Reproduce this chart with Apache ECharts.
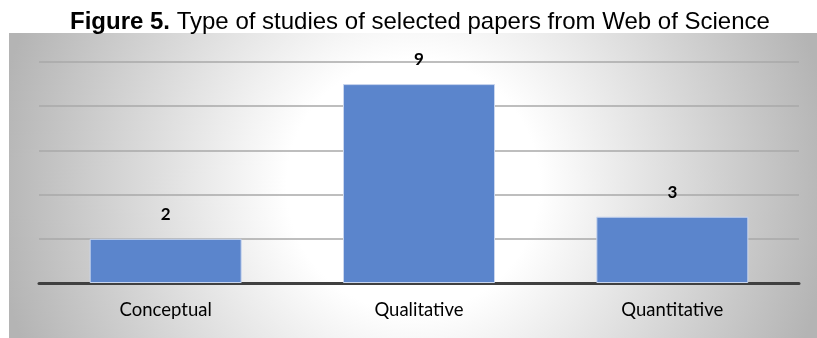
<!DOCTYPE html>
<html>
<head>
<meta charset="utf-8">
<script src="https://cdn.jsdelivr.net/npm/echarts@6/dist/echarts.min.js"></script>
<style>
  html, body { margin: 0; padding: 0; background: #ffffff; }
  #chart { width: 817px; height: 338px; }
</style>
</head>
<body>
<div id="chart"></div>
<script>
// Study types and number of selected papers
const categories = ['Conceptual', 'Qualitative', 'Quantitative'];
const paperCounts = [2, 9, 3];

const chart = echarts.init(document.getElementById('chart'), null, { renderer: 'canvas' });

chart.setOption({
  animation: false,
  title: {
    text: '{b|Figure 5.} Type of studies of selected papers from Web of Science',
    left: 65,
    top: 5,
    textStyle: {
      fontFamily: 'Liberation Sans, Arial, sans-serif',
      fontSize: 24,
      fontWeight: 'normal',
      color: '#000000',
      rich: {
        b: { fontFamily: 'Liberation Sans, Arial, sans-serif', fontSize: 24, fontWeight: 'bold', color: '#000000' }
      }
    }
  },
  graphic: [{
    type: 'rect',
    z: -10,
    silent: true,
    shape: { x: 9, y: 33, width: 808, height: 305 },
    style: {
      fill: new echarts.graphic.RadialGradient(0.5, 0.5, 1.38, [
        { offset: 0, color: '#ffffff' },
        { offset: 0.3, color: '#ffffff' },
        { offset: 1, color: '#b4b4b4' }
      ])
    }
  }],
  grid: { left: 39, right: 18, top: 62, bottom: 55, containLabel: false },
  xAxis: {
    type: 'category',
    data: categories,
    axisTick: { show: false },
    axisLine: { show: true, lineStyle: { color: '#404040', width: 3 } },
    axisLabel: {
      margin: 18,
      fontFamily: 'Lato, Open Sans, sans-serif',
      fontSize: 18.5,
      color: '#000000'
    }
  },
  yAxis: {
    type: 'value',
    min: 0,
    max: 10,
    interval: 2,
    axisLabel: { show: false },
    axisLine: { show: false },
    axisTick: { show: false },
    splitLine: { lineStyle: { color: '#a8a8a8', width: 1.5 } }
  },
  series: [{
    type: 'bar',
    data: paperCounts,
    barWidth: '60%',
    itemStyle: { color: '#5b85cc', borderColor: '#c9d6ee', borderWidth: 1 },
    label: {
      show: true,
      position: 'top',
      distance: 16,
      fontFamily: 'Lato, Open Sans, sans-serif',
      fontWeight: 'bold',
      fontSize: 17,
      color: '#000000'
    }
  }]
});
</script>
</body>
</html>
